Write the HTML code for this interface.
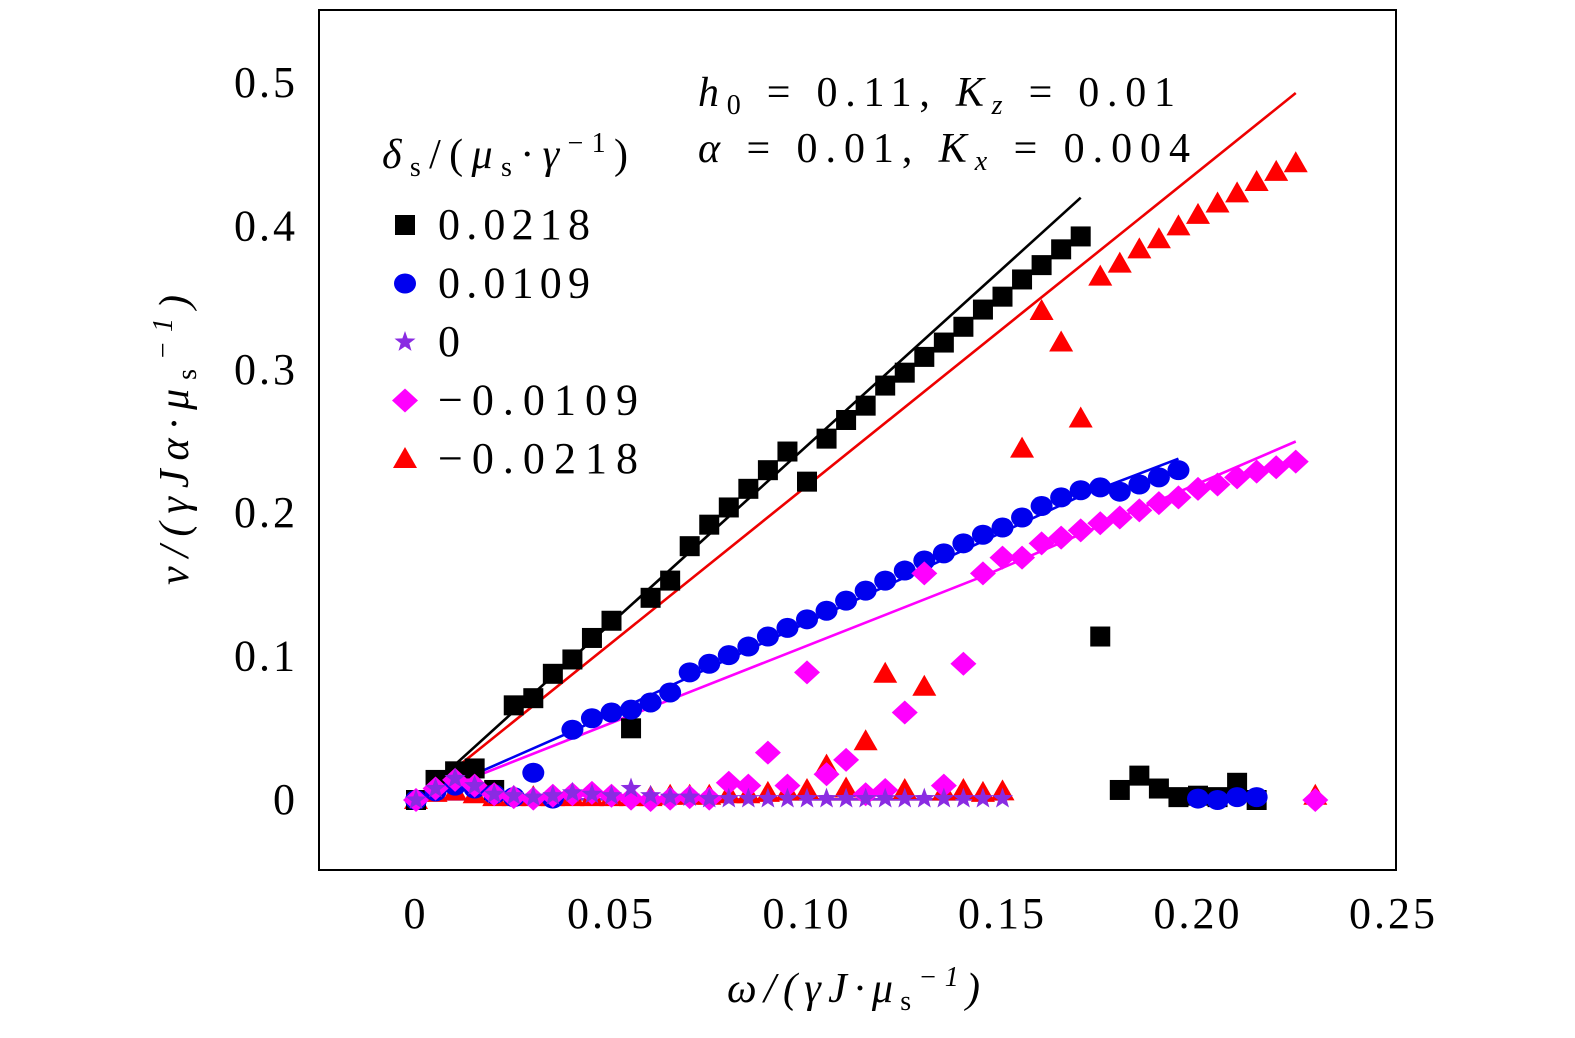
<!DOCTYPE html>
<html><head><meta charset="utf-8"><style>
body{margin:0;background:#fff;}
svg text{font-family:"Liberation Serif",serif;fill:#000;}
</style></head><body>
<svg id="chart" width="1575" height="1033" viewBox="0 0 1575 1033" xmlns="http://www.w3.org/2000/svg">
<rect x="319" y="10" width="1077" height="860" fill="none" stroke="#000" stroke-width="2"/>
<g id="xt"></g>
<g id="yt"></g>
<g id="lines"></g>
<g id="marks"></g>
<text x="727" y="1002" font-size="42" textLength="253" lengthAdjust="spacing" font-style="italic">ω/(γJ·μ<tspan font-size="28" dy="8" font-style="normal">s</tspan><tspan font-size="28" dy="-24">−1</tspan><tspan dy="16">)</tspan></text>
<text transform="translate(188,585) rotate(-90)" font-size="42" textLength="290" lengthAdjust="spacing" font-style="italic">v/(γJα·μ<tspan font-size="28" dy="8" font-style="normal">s</tspan><tspan font-size="28" dy="-24">−1</tspan><tspan dy="16">)</tspan></text>
<text x="698" y="106" font-size="42" textLength="477" lengthAdjust="spacing" font-style="italic">h<tspan font-size="28" dy="8" font-style="normal">0</tspan><tspan dy="-8" font-style="normal"> = 0.11,  </tspan>K<tspan font-size="28" dy="8">z</tspan><tspan dy="-8" font-style="normal"> = 0.01</tspan></text>
<text x="698" y="162" font-size="42" textLength="492" lengthAdjust="spacing" font-style="italic">α<tspan font-style="normal"> = 0.01,  </tspan>K<tspan font-size="28" dy="8">x</tspan><tspan dy="-8" font-style="normal"> = 0.004</tspan></text>
<text x="382" y="168" font-size="42" textLength="246" lengthAdjust="spacing" font-style="italic">δ<tspan font-size="28" dy="8" font-style="normal">s</tspan><tspan dy="-8" font-style="normal">/(</tspan>μ<tspan font-size="28" dy="8" font-style="normal">s</tspan><tspan dy="-8" font-style="normal">·</tspan>γ<tspan font-size="28" dy="-16" font-style="normal">−1</tspan><tspan dy="16" font-style="normal">)</tspan></text>
<g id="legend"></g>
</svg>
<script>
const NS="http://www.w3.org/2000/svg";
const xTicks=[0,0.05,0.10,0.15,0.20,0.25];
const xTickLabels=["0","0.05","0.10","0.15","0.20","0.25"];
const yTicks=[0,0.1,0.2,0.3,0.4,0.5];
const yTickLabels=["0","0.1","0.2","0.3","0.4","0.5"];
const xs=[0,0.005,0.01,0.015,0.02,0.025,0.03,0.035,0.04,0.045,0.05,0.055,0.06,0.065,0.07,0.075,0.08,0.085,0.09,0.095,0.10,0.105,0.11,0.115,0.12,0.125,0.13,0.135,0.14,0.145,0.15,0.155,0.16,0.165,0.17,0.175,0.18,0.185,0.19,0.195,0.20,0.205,0.21,0.215,0.22,0.225,0.23];
const sq=[0,0.014,0.02,0.022,0.007,0.066,0.071,0.088,0.098,0.113,0.125,0.05,0.141,0.153,0.177,0.192,0.204,0.217,0.23,0.243,0.222,0.252,0.265,0.275,0.289,0.298,0.309,0.319,0.33,0.342,0.351,0.363,0.373,0.384,0.393,0.114,0.007,0.017,0.008,0.002,0.003,0.002,0.012,0];
const ci=[0,0.006,0.01,0.008,0.004,0.002,0.019,0.001,0.049,0.057,0.061,0.063,0.068,0.075,0.089,0.095,0.101,0.107,0.114,0.12,0.126,0.132,0.139,0.146,0.153,0.16,0.167,0.172,0.179,0.185,0.19,0.197,0.205,0.211,0.216,0.218,0.215,0.22,0.225,0.23,0.001,0,0.002,0.002];
const st=[0,0.008,0.015,0.01,0.004,0.003,0.002,0.003,0.005,0.004,0.003,0.008,0.003,0.002,0.002,0.001,0.001,0.001,0.001,0.001,0.001,0.001,0.001,0.001,0.001,0.001,0.001,0.001,0.001,0.001,0.001];
const di=[0,0.008,0.014,0.01,0.004,0.002,0.001,0.003,0.004,0.005,0.003,0.001,0,0.001,0.002,0.001,0.012,0.01,0.033,0.01,0.089,0.018,0.028,0.004,0.007,0.061,0.158,0.01,0.095,0.158,0.169,0.169,0.179,0.183,0.188,0.193,0.197,0.202,0.207,0.211,0.217,0.22,0.225,0.229,0.232,0.236,0];
const tr=[0,0.005,0.006,0.004,0.002,0.002,0.002,0.002,0.002,0.002,0.002,0.002,0.002,0.003,0.003,0.003,0.004,0.004,0.005,0.006,0.007,0.024,0.008,0.041,0.088,0.007,0.079,0.006,0.007,0.005,0.006,0.245,0.341,0.319,0.266,0.365,0.374,0.384,0.391,0.4,0.408,0.416,0.423,0.431,0.438,0.444,0.003];
const blackLineX=[0,0.17], blackLineY=[0,0.42];
const redLineX=[0,0.225], redLineY=[0,0.493];
const blueLineX=[0,0.04,0.17,0.195], blueLineY=[0,0.048,0.212,0.238];
const magLineX=[0,0.145,0.225], magLineY=[0,0.156,0.25];
const flatLineX=[0,0.15], flatLineY=[0.0005,0.0005];
const X=v=>416+v*3910, Y=v=>800-v*1434;
function mk(tag,attrs,parent){const e=document.createElementNS(NS,tag);for(const k in attrs)e.setAttribute(k,attrs[k]);parent.appendChild(e);return e;}
const xt=document.getElementById('xt'),yt=document.getElementById('yt');
xTicks.forEach((t,i)=>{const e=mk('text',{x:X(t),y:928,'font-size':44,'letter-spacing':3,'text-anchor':'middle'},xt);e.textContent=xTickLabels[i];

});
yTicks.forEach((t,i)=>{const e=mk('text',{x:298,y:Y(t)+14,'font-size':44,'letter-spacing':3,'text-anchor':'end'},yt);e.textContent=yTickLabels[i];

});
const L=document.getElementById('lines');
function line(xa,ya,c,name){const p=mk('polyline',{points:xa.map((x,i)=>X(x)+','+Y(ya[i])).join(' '),fill:'none',stroke:c,'stroke-width':2.6},L);

}
line(flatLineX,flatLineY,'#e00','flat-line-red');
line(flatLineX,flatLineY,'#8a2be2','flat-line-purple');
line(blackLineX,blackLineY,'#000','fit-line-0.0218');
line(redLineX,redLineY,'#e00','fit-line-neg-0.0218');
line(blueLineX,blueLineY,'#0000ee','fit-line-0.0109');
line(magLineX,magLineY,'#f0f','fit-line-neg-0.0109');
const M=document.getElementById('marks');
function marker(type,cx,cy,g){let e;
if(type==='sq')e=mk('rect',{x:cx-10,y:cy-10,width:20,height:20,fill:'#000'},g);
else if(type==='ci')e=mk('ellipse',{cx:cx,cy:cy,rx:11,ry:10,fill:'#0000ee'},g);
else if(type==='di')e=mk('polygon',{points:`${cx},${cy-12} ${cx+13},${cy} ${cx},${cy+12} ${cx-13},${cy}`,fill:'#f0f'},g);
else if(type==='tr')e=mk('polygon',{points:`${cx},${cy-12} ${cx+12},${cy+9} ${cx-12},${cy+9}`,fill:'#f00'},g);
else{let p=[];for(let k=0;k<10;k++){const r=k%2?4.5:11,a=-Math.PI/2+k*Math.PI/5;p.push((cx+r*Math.cos(a)).toFixed(1)+','+(cy+r*Math.sin(a)).toFixed(1));}e=mk('polygon',{points:p.join(' '),fill:'#8a2be2'},g);}
return e;}
function series(vals,type,name){vals.forEach((v,i)=>{const e=marker(type,X(xs[i]),Y(v),M);

});}
series(tr,'tr','point-neg-0.0218');
series(sq,'sq','point-0.0218');
series(ci,'ci','point-0.0109');
series(di,'di','point-neg-0.0109');
series(st,'st','point-0');
const lg=document.getElementById('legend');
const legTypes=['sq','ci','st','di','tr'];
const legLabels=['0.0218','0.0109','0','−0.0109','−0.0218'];
const legLens=[152,152,25,200,200];
legTypes.forEach((t,i)=>{const cy=225+i*58.5;const m=marker(t,405,cy,lg);


const tx=mk('text',{x:438,y:cy+14,'font-size':44,textLength:legLens[i],lengthAdjust:'spacing'},lg);tx.textContent=legLabels[i];

});
</script>
</body></html>
